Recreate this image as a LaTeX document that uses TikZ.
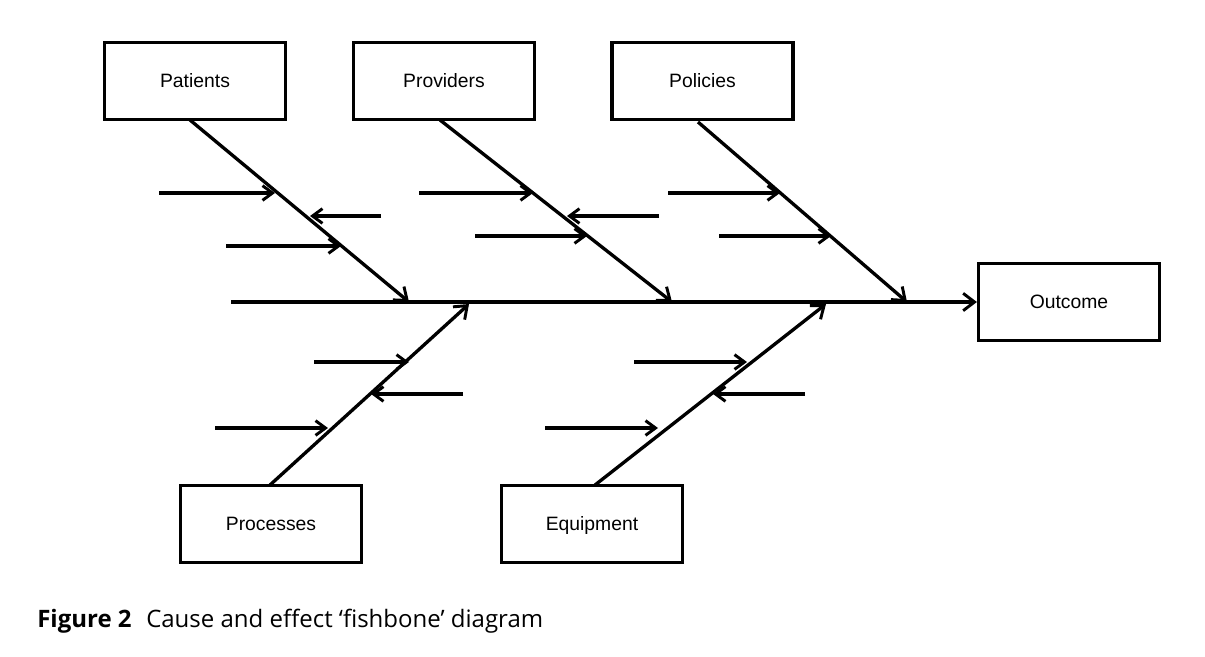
\documentclass[tikz,border=0pt]{standalone}
\usepackage{fontspec}
\setmainfont{Liberation Sans}
\newfontfamily\capfont{Open Sans}
\usetikzlibrary{arrows.meta}
\begin{document}
\begin{tikzpicture}[x=0.75pt,y=-0.75pt,
  box/.style={draw,line width=2.4pt,minimum width=181*0.75pt,minimum height=77*0.75pt,inner sep=0pt,text height=10pt,text depth=0pt,font=\fontsize{14.5}{16}\selectfont},
  bone/.style={line width=2.5pt,-{Straight Barb[length=8.5pt,width=13pt,line width=2.2pt]}},
  rib/.style={line width=2.5pt,-{Straight Barb[length=7.5pt,width=11pt,line width=2.2pt]}}]
\useasboundingbox (0,0) rectangle (1205,656);
% boxes
\node[box] (pat) at (195,81) {Patients};
\node[box] (pro) at (444,81) {Providers};
\node[box] (pol) at (702.5,81) {Policies};
\node[box] (out) at (1069,302) {Outcome};
\node[box] (prc) at (271,524) {Processes};
\node[box] (eqp) at (592,524) {Equipment};
% spine
\coordinate (s0) at (231,302);
\coordinate (pa) at (409,302);
\coordinate (pb) at (672,302);
\coordinate (pc) at (907,302);
\coordinate (pd) at (469,304);
\coordinate (pe) at (826,304);
\draw[bone] (s0) -- (out.west);
% bones
\coordinate (pat0) at (190,120);
\coordinate (pro0) at (440,120);
\coordinate (pol0) at (698,122);
\coordinate (prc0) at (270,485);
\coordinate (eqp0) at (595,485);
\draw[bone] (pat0) -- (pa);
\draw[bone] (pro0) -- (pb);
\draw[bone] (pol0) -- (pc);
\draw[bone] (prc0) -- (pd);
\draw[bone] (eqp0) -- (pe);
% ribs
\foreach \a/\b/\y in {159/275/193, 381/310/216, 226/341/246,
                      419/533/193, 659/567/216, 475/587/236,
                      668/780/193, 719/831/236,
                      314/409/362, 463/371/394, 215/328/428,
                      634/747/362, 805/713/394, 545/658/428}{
  \coordinate (r1) at (\a,\y);
  \coordinate (r2) at (\b,\y);
  \draw[rib] (r1) -- (r2);
}
% caption
\node[anchor=base west,inner sep=0pt,font=\capfont\fontsize{18}{20}\selectfont] (cap) at (37,627) {\textbf{Figure 2}\hspace{0.35em} Cause and effect ‘fishbone’ diagram};
\end{tikzpicture}
\end{document}
